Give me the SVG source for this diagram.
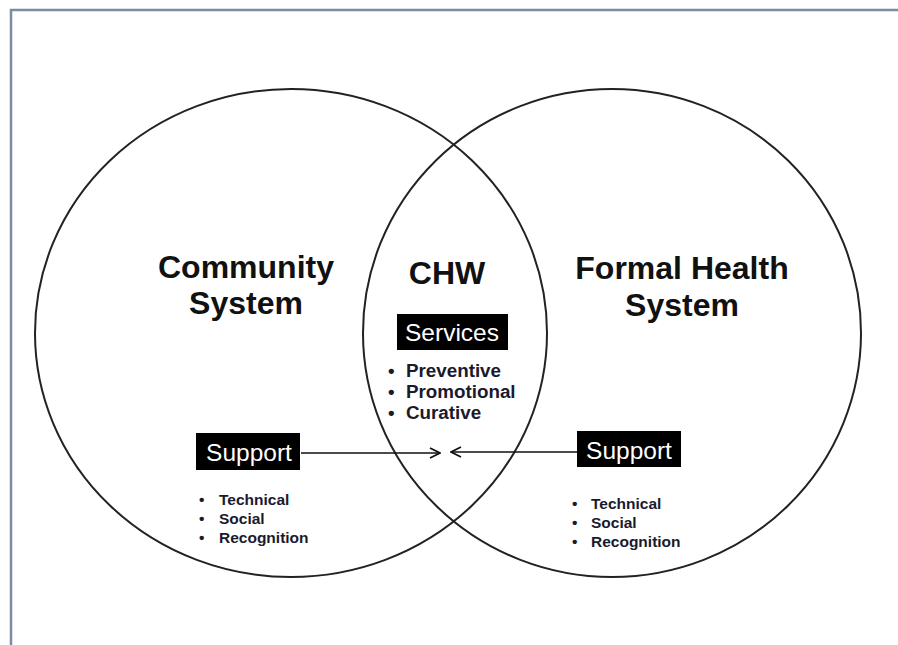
<svg xmlns="http://www.w3.org/2000/svg" width="898" height="645" viewBox="0 0 898 645">
<defs>
<style>
.frame{fill:none;stroke:#7d8ba3;stroke-width:2.5}
.circ{fill:none;stroke:#222;stroke-width:2}
.title{font-family:"Liberation Sans",Arial,sans-serif;font-weight:bold;font-size:32px;fill:#111;text-anchor:middle}
.box{fill:#000}
.boxt{font-family:"Liberation Sans",Arial,sans-serif;font-size:24.5px;fill:#fff;text-anchor:middle}
.b1{font-family:"Liberation Sans",Arial,sans-serif;font-weight:bold;font-size:18.8px;fill:#1a1a2e}
.b2{font-family:"Liberation Sans",Arial,sans-serif;font-weight:bold;font-size:15.5px;fill:#1a1a2e}
.conn{stroke:#111;stroke-width:1.6;fill:none}
</style>
<marker id="arr" viewBox="0 0 12 12" refX="11" refY="6" markerWidth="12" markerHeight="12" markerUnits="userSpaceOnUse" orient="auto">
<path d="M1,1 L11,6 L1,11" fill="none" stroke="#111" stroke-width="1.8"/>
</marker>
</defs>
<rect width="898" height="645" fill="#fff"/>
<path class="frame" d="M11,645 L11,10 L898,10"/>
<g id="community">
<ellipse class="circ" cx="291" cy="333" rx="256" ry="244"/>
<text class="title" x="246" y="278">Community</text>
<text class="title" x="246" y="314">System</text>
</g>
<g id="formal">
<ellipse class="circ" cx="612" cy="333" rx="249" ry="244"/>
<text class="title" x="682" y="279">Formal Health</text>
<text class="title" x="682" y="316">System</text>
</g>
<g id="chw">
<text class="title" x="447" y="284">CHW</text>
</g>
<g id="services">
<rect class="box" x="397" y="314" width="111" height="36"/>
<text class="boxt" x="452" y="341">Services</text>
<text class="b1" x="388" y="377">•</text><text class="b1" x="406" y="377">Preventive</text>
<text class="b1" x="388" y="398">•</text><text class="b1" x="406" y="398">Promotional</text>
<text class="b1" x="388" y="419">•</text><text class="b1" x="406" y="419">Curative</text>
</g>
<g id="support-left">
<rect class="box" x="196" y="433" width="104" height="37"/>
<text class="boxt" x="249" y="461">Support</text>
<text class="b2" x="199" y="505">•</text><text class="b2" x="219" y="505">Technical</text>
<text class="b2" x="199" y="524">•</text><text class="b2" x="219" y="524">Social</text>
<text class="b2" x="199" y="543">•</text><text class="b2" x="219" y="543">Recognition</text>
</g>
<g id="support-right">
<rect class="box" x="577" y="431" width="104" height="36"/>
<text class="boxt" x="629" y="459">Support</text>
<text class="b2" x="572" y="509">•</text><text class="b2" x="591" y="509">Technical</text>
<text class="b2" x="572" y="528">•</text><text class="b2" x="591" y="528">Social</text>
<text class="b2" x="572" y="547">•</text><text class="b2" x="591" y="547">Recognition</text>
</g>
<g id="connectors">
<line class="conn" x1="301" y1="453" x2="440" y2="453" marker-end="url(#arr)"/>
<line class="conn" x1="577" y1="452" x2="451" y2="452" marker-end="url(#arr)"/>
</g>
</svg>
